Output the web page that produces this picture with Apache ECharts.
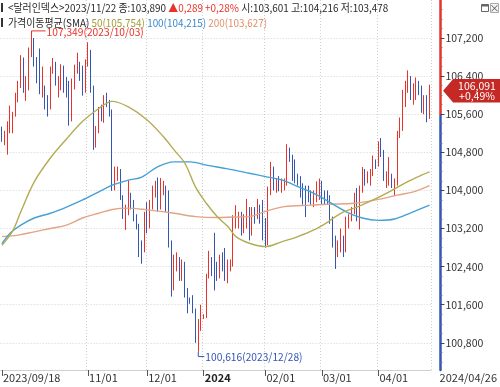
<!DOCTYPE html>
<html><head><meta charset="utf-8">
<script src="https://cdn.jsdelivr.net/npm/echarts@6/dist/echarts.min.js"></script>
<style>html,body{margin:0;padding:0;background:#fff}#c{width:500px;height:387px}</style>
</head><body><div id="c"></div>
<script>
// ---------- DATA ----------
const dates = [
"2023/09/18","2023/09/19","2023/09/20","2023/09/21","2023/09/22","2023/09/25","2023/09/26","2023/09/27","2023/09/28","2023/09/29",
"2023/10/02","2023/10/03","2023/10/04","2023/10/05","2023/10/06","2023/10/09","2023/10/10","2023/10/11","2023/10/12","2023/10/13","2023/10/16","2023/10/17","2023/10/18","2023/10/19","2023/10/20","2023/10/23","2023/10/24","2023/10/25","2023/10/26","2023/10/27","2023/10/30","2023/10/31",
"2023/11/01","2023/11/02","2023/11/03","2023/11/06","2023/11/07","2023/11/08","2023/11/09","2023/11/10","2023/11/13","2023/11/14","2023/11/15","2023/11/16","2023/11/17","2023/11/20","2023/11/21","2023/11/22","2023/11/23","2023/11/24","2023/11/27","2023/11/28","2023/11/29","2023/11/30",
"2023/12/01","2023/12/04","2023/12/05","2023/12/06","2023/12/07","2023/12/08","2023/12/11","2023/12/12","2023/12/13","2023/12/14","2023/12/15","2023/12/18","2023/12/19","2023/12/20","2023/12/21","2023/12/22","2023/12/25","2023/12/26","2023/12/27","2023/12/28","2023/12/29",
"2024/01/01","2024/01/02","2024/01/03","2024/01/04","2024/01/05","2024/01/08","2024/01/09","2024/01/10","2024/01/11","2024/01/12","2024/01/15","2024/01/16","2024/01/17","2024/01/18","2024/01/19","2024/01/22","2024/01/23","2024/01/24","2024/01/25","2024/01/26","2024/01/29","2024/01/30","2024/01/31",
"2024/02/01","2024/02/02","2024/02/05","2024/02/06","2024/02/07","2024/02/08","2024/02/09","2024/02/12","2024/02/13","2024/02/14","2024/02/15","2024/02/16","2024/02/19","2024/02/20","2024/02/21","2024/02/22","2024/02/23","2024/02/26","2024/02/27","2024/02/28","2024/02/29",
"2024/03/01","2024/03/04","2024/03/05","2024/03/06","2024/03/07","2024/03/08","2024/03/11","2024/03/12","2024/03/13","2024/03/14","2024/03/15","2024/03/18","2024/03/19","2024/03/20","2024/03/21","2024/03/22","2024/03/25","2024/03/26","2024/03/27","2024/03/28","2024/03/29",
"2024/04/01","2024/04/02","2024/04/03","2024/04/04","2024/04/05","2024/04/08","2024/04/09","2024/04/10","2024/04/11","2024/04/12","2024/04/15","2024/04/16","2024/04/17","2024/04/18","2024/04/19","2024/04/22","2024/04/23","2024/04/24","2024/04/25","2024/04/26"
];
const opens = [
105.32,105.10,105.17,105.36,105.39,105.58,105.98,106.23,106.68,106.16,
106.17,106.90,106.98,106.70,106.32,106.04,106.05,105.80,105.77,106.56,106.66,106.24,106.25,106.56,106.23,106.16,105.52,106.26,106.58,106.61,106.56,106.08,
106.68,106.87,106.15,105.02,105.25,105.55,105.52,105.91,105.86,105.64,104.05,104.36,104.37,103.86,103.45,103.601,103.89,103.76,103.41,103.20,102.79,102.77,
103.50,103.27,103.66,104.02,104.12,103.62,104.01,104.06,103.82,102.87,101.95,102.55,102.57,102.19,102.43,101.83,101.70,101.68,101.48,100.98,101.23,
101.33,101.36,102.20,102.46,102.42,102.41,102.23,102.55,102.36,102.28,102.40,102.43,103.35,103.42,103.43,103.27,103.34,103.60,103.24,103.51,103.44,103.63,103.40,
103.29,103.06,103.92,104.46,104.10,104.11,104.09,104.11,104.18,104.86,104.68,104.30,104.29,104.28,104.09,103.97,103.96,103.93,103.83,103.84,104.00,
104.16,103.88,103.87,103.83,103.36,102.83,102.72,102.86,102.95,102.78,103.37,103.43,103.59,103.83,103.39,104.00,104.43,104.21,104.31,104.37,104.55,
104.52,105.00,104.80,104.26,104.28,104.30,104.11,104.14,105.19,105.30,106.04,106.22,106.26,105.94,106.15,106.16,106.11,105.67,105.85,105.574
];
const highs = [
105.34,105.25,105.45,105.78,105.65,106.05,106.30,106.84,106.79,106.40,
107.00,107.349,107.20,106.80,106.98,106.60,106.20,106.00,106.60,106.78,106.70,106.40,106.65,106.62,106.38,106.30,106.35,106.64,106.89,106.70,106.62,106.75,
107.11,106.95,106.20,105.35,105.75,105.80,106.00,106.05,105.90,105.70,104.50,104.50,104.45,103.90,103.70,104.216,103.95,103.80,103.50,103.30,102.95,103.55,
103.75,103.80,104.10,104.20,104.27,104.26,104.20,104.10,104.00,102.95,102.65,102.70,102.60,102.55,102.50,101.95,101.75,101.80,101.52,101.30,101.60,
101.40,102.25,102.73,102.60,103.11,102.50,102.65,102.70,102.79,102.55,102.55,103.48,103.69,103.55,103.55,103.50,103.82,103.65,103.65,103.65,103.82,103.70,103.80,
103.42,104.08,104.60,104.50,104.25,104.30,104.25,104.25,104.97,104.90,104.75,104.65,104.35,104.30,104.15,104.10,104.10,104.00,104.00,104.19,104.25,
104.20,104.00,104.00,103.90,103.45,103.05,102.95,103.20,103.05,103.45,103.50,103.65,103.95,104.05,104.10,104.49,104.45,104.40,104.45,104.73,104.65,
105.03,105.10,104.85,104.40,104.70,104.35,104.25,105.25,105.53,106.11,106.30,106.52,106.40,106.25,106.37,106.30,106.20,106.00,106.00,106.22
];
const lows = [
105.02,104.95,104.75,105.20,105.20,105.55,105.85,106.15,106.05,105.88,
106.10,106.80,106.60,106.25,106.02,105.95,105.70,105.55,105.70,106.45,106.20,105.95,106.10,106.05,105.95,105.36,105.45,106.12,106.45,106.30,105.99,106.05,
106.60,106.05,104.85,104.90,105.20,105.45,105.42,105.75,105.55,103.99,104.00,104.20,103.80,103.40,103.17,103.478,103.60,103.35,103.18,102.60,102.46,102.70,
103.10,103.20,103.60,103.85,103.55,103.60,103.90,103.55,102.80,101.77,101.90,102.30,102.10,102.10,101.75,101.42,101.62,101.42,100.80,100.616,101.05,
101.30,101.32,102.15,102.20,101.90,102.10,102.15,102.30,102.10,102.05,102.30,102.40,103.20,103.20,103.05,103.10,103.20,102.95,103.05,103.30,103.40,103.30,102.95,
102.80,102.85,103.90,104.00,103.95,103.98,103.95,104.00,104.10,104.60,104.20,104.15,104.10,103.85,103.70,103.44,103.75,103.70,103.65,103.75,103.80,
103.70,103.70,103.70,103.30,102.80,102.35,102.60,102.70,102.60,102.70,103.20,103.35,103.50,103.35,103.18,103.95,104.10,104.15,104.10,104.30,104.45,
104.50,104.70,104.20,104.05,104.10,104.05,103.88,104.10,105.10,105.25,105.75,106.05,105.90,105.80,105.90,106.00,105.63,105.60,105.43,105.50
];
const closes = [
105.10,105.17,105.36,105.39,105.58,105.98,106.23,106.68,106.16,106.17,
106.90,106.98,106.70,106.32,106.04,106.05,105.80,105.77,106.56,106.66,106.24,106.25,106.56,106.23,106.16,105.52,106.26,106.58,106.61,106.56,106.08,106.68,
106.87,106.15,105.02,105.25,105.55,105.52,105.91,105.86,105.64,104.05,104.36,104.37,103.86,103.45,103.601,103.890,103.76,103.41,103.20,102.79,102.77,103.50,
103.27,103.66,104.02,104.12,103.62,104.01,104.06,103.82,102.87,101.95,102.55,102.57,102.19,102.43,101.83,101.70,101.68,101.48,100.98,101.23,101.33,
101.36,102.20,102.46,102.42,102.41,102.23,102.55,102.36,102.28,102.40,102.43,103.35,103.42,103.43,103.27,103.34,103.60,103.24,103.51,103.44,103.63,103.40,103.29,
103.06,103.92,104.46,104.10,104.11,104.09,104.11,104.18,104.86,104.68,104.30,104.29,104.28,104.09,103.97,103.96,103.93,103.83,103.84,104.00,104.16,
103.88,103.87,103.83,103.36,102.83,102.72,102.86,102.95,102.78,103.37,103.43,103.59,103.83,103.39,104.00,104.43,104.21,104.31,104.37,104.55,104.52,
105.00,104.80,104.26,104.28,104.30,104.11,104.14,105.19,105.30,106.04,106.22,106.26,105.94,106.15,106.16,106.11,105.67,105.85,105.574,106.091
];
// moving averages: [category index, value]
const sma50 = [[0,102.85],[4,103.15],[7,103.55],[12,104.18],[18,104.68],[24,105.08],[30,105.45],[36,105.72],[41,105.87],[47,105.754],[54,105.48],[60,105.13],[64,104.85],[68,104.57],[72,104.07],[76,103.73],[80,103.45],[84,103.24],[87,103.03],[92,102.89],[98,102.82],[104,102.92],[110,103.03],[116,103.17],[121,103.33],[126,103.52],[132,103.65],[138,103.80],[144,103.97],[150,104.16],[156,104.32],[159,104.39]];
const sma100 = [[0,102.88],[3,103.10],[7,103.27],[12,103.42],[18,103.52],[24,103.65],[30,103.80],[36,103.97],[41,104.11],[47,104.215],[52,104.28],[58,104.50],[64,104.60],[70,104.60],[76,104.53],[82,104.47],[86,104.43],[92,104.36],[98,104.29],[104,104.22],[110,104.08],[116,103.94],[121,103.78],[128,103.55],[134,103.42],[140,103.37],[146,103.40],[152,103.53],[159,103.69]];
const sma200 = [[0,103.03],[6,103.06],[12,103.13],[18,103.20],[24,103.27],[30,103.42],[36,103.52],[41,103.60],[47,103.627],[54,103.59],[64,103.52],[72,103.45],[80,103.43],[86,103.44],[92,103.45],[98,103.56],[105,103.66],[115,103.69],[121,103.71],[131,103.73],[139,103.80],[147,103.90],[153,103.97],[159,104.10]];
const yTickValues = [100.8,101.6,102.4,103.2,104.0,104.8,105.6,106.4,107.2];
const xLabelDates = ["2023/09/18","2023/11/01","2023/12/01","2024/01/01","2024/02/01","2024/03/01","2024/04/01","2024/04/26"];
const xLabelTexts = ["2023/09/18","11/01","12/01","2024","02/01","03/01","04/01","2024/04/26"];
const headerDate = "2023/11/22";

// ---------- STYLE / LAYOUT ----------
const FONT = '"Noto Sans CJK KR","Noto Sans",sans-serif';
const UP = '#e8322a', DN = '#3456b4';
const C50 = '#b3ac52', C100 = '#45a0d6', C200 = '#e3a486';
const GRID_W = 438.6, GRID_H = 370, Y_OFF = 9.5;
const Y_MIN = 100.2289, Y_MAX = 107.9979;

const f3 = v => v.toFixed(3).replace('.', ',');
const labelIdx = xLabelDates.map(d => dates.indexOf(d));
const labelMap = {}; labelIdx.forEach((i, k) => labelMap[i] = xLabelTexts[k]);
const lastIdx = dates.length - 1;
const tickIdx = labelIdx.filter(i => i !== lastIdx);
const minorTicks = [];
for (let k = Math.round(Y_MIN * 5) + 1; k <= Math.floor(Y_MAX * 5); k++) {
  const v = k / 5;
  if (!yTickValues.some(t => Math.abs(t - v) < 1e-6)) minorTicks.push(+v.toFixed(1));
}
const prevClose = closes[lastIdx - 1];
const splitFrac = (Y_MAX - prevClose) / (Y_MAX - Y_MIN);

const chart = echarts.init(document.getElementById('c'), null, {renderer: 'canvas'});
const candleData = dates.map((d, i) => [opens[i], closes[i], lows[i], highs[i]]);

chart.setOption({
  animation: false,
  textStyle: {fontFamily: FONT},
  grid: {left: 0, top: 0, width: GRID_W, height: GRID_H, containLabel: false},
  xAxis: {
    type: 'category', data: dates, boundaryGap: true,
    axisLine: {show: true, lineStyle: {color: '#d0d0d0', width: 1}},
    axisTick: {show: true, alignWithLabel: true, length: 6, interval: i => tickIdx.includes(i), lineStyle: {color: '#555'}},
    axisLabel: {
      interval: i => labelMap[i] !== undefined,
      formatter: (v, i) => {
        const t = labelMap[i];
        if (t === undefined) return '';
        if (t === '2024') return '{b|' + t + '}';
        if (i === lastIdx) return '{e|' + t + '}';
        return '{n|' + t + '}';
      },
      align: 'left', margin: 2, color: '#333', fontSize: 11, fontFamily: FONT,
      rich: {
        n: {fontSize: 11, color: '#333', fontFamily: FONT, padding: [0, 0, 0, 1]},
        b: {fontSize: 11, color: '#222', fontWeight: 'bold', fontFamily: FONT, padding: [0, 0, 0, 1]},
        e: {fontSize: 11, color: '#333', fontFamily: FONT, padding: [0, 0, 0, 10]}
      }
    },
    splitLine: {show: true, interval: i => tickIdx.includes(i) && i !== 0, lineStyle: {color: '#cfcfcf', type: [1, 2]}}
  },
  yAxis: [{
    type: 'value', position: 'right', offset: Y_OFF, min: Y_MIN, max: Y_MAX, scale: true,
    axisLine: {show: true, lineStyle: {width: 2.5, color: new echarts.graphic.LinearGradient(0, 0, 0, GRID_H, [
      {offset: 0, color: UP}, {offset: splitFrac, color: UP}, {offset: splitFrac, color: DN}, {offset: 1, color: DN}], true)}},
    axisTick: {show: true, length: 4, customValues: yTickValues, lineStyle: {color: '#444'}},
    axisLabel: {customValues: yTickValues, formatter: v => f3(v), color: '#333', fontSize: 10.5, margin: 5, fontFamily: FONT},
    splitLine: {show: true, lineStyle: {color: '#d2d2d2', type: [1, 2]}}
  }, {
    type: 'value', position: 'right', offset: Y_OFF, min: Y_MIN, max: Y_MAX, scale: true,
    axisLine: {show: false},
    axisTick: {show: true, length: 2, customValues: minorTicks, lineStyle: {color: '#777'}},
    axisLabel: {show: false},
    splitLine: {show: false}
  }],
  series: [
    {type: 'candlestick', data: candleData, barWidth: 1.3,
     itemStyle: {color: UP, color0: DN, borderColor: UP, borderColor0: DN, borderWidth: 1}},
    {type: 'line', data: sma200, smooth: 0.35, symbol: 'none', lineStyle: {color: C200, width: 1.4}},
    {type: 'line', data: sma100, smooth: 0.35, symbol: 'none', lineStyle: {color: C100, width: 1.4}},
    {type: 'line', data: sma50, smooth: 0.35, symbol: 'none', lineStyle: {color: C50, width: 1.4}}
  ]
});

// ---------- annotations placed through the chart's own scales ----------
const px = i => chart.convertToPixel({xAxisIndex: 0}, i);
const py = v => chart.convertToPixel({yAxisIndex: 0}, v);
const axisX = GRID_W + Y_OFF;

let hiI = 0, loI = 0;
highs.forEach((v, i) => { if (v > highs[hiI]) hiI = i; });
lows.forEach((v, i) => { if (v < lows[loI]) loI = i; });
const hx = px(hiI), hy = py(highs[hiI]);
const lx = px(loI), ly = py(lows[loI]);

const hI = dates.indexOf(headerDate);
const hc = closes[hI], hpc = closes[hI - 1], chg = hc - hpc, pct = chg / hpc * 100;
const smaAt = (arr, i) => { const p = arr.find(q => q[0] === i); return p ? p[1] : null; };

const lastC = closes[lastIdx], lastPct = (lastC - prevClose) / prevClose * 100;
const ly0 = py(lastC);
const HS = 0.9, AS = 0.93;

chart.setOption({
  graphic: [
    {type: 'rect', shape: {x: 1, y: 3, width: 2, height: 9}, style: {fill: '#333'}, z: 100},
    {type: 'text', x: 8, y: 7.5, scaleX: HS, z: 100, style: {
      text: '{k|<달러인덱스>' + headerDate + ' 종:' + f3(hc) + '} {r|' + (chg >= 0 ? '▲' : '▼') + f3(Math.abs(chg)) + ' ' + (chg >= 0 ? '+' : '-') + Math.abs(pct).toFixed(2).replace('.', ',') + '%} {k|시:' + f3(opens[hI]) + ' 고:' + f3(highs[hI]) + ' 저:' + f3(lows[hI]) + '}',
      verticalAlign: 'middle', font: '11px ' + FONT,
      rich: {k: {fill: '#2a2a2a', font: '11px ' + FONT}, r: {fill: UP, font: '11px ' + FONT}}
    }},
    {type: 'rect', shape: {x: 1, y: 18, width: 2, height: 9}, style: {fill: '#333'}, z: 100},
    {type: 'text', x: 8, y: 22.5, scaleX: HS, z: 100, style: {
      text: '{k|가격이동평균(SMA)} {a|50(' + f3(smaAt(sma50, hI)) + ')} {b|100(' + f3(smaAt(sma100, hI)) + ')} {c|200(' + f3(smaAt(sma200, hI)) + ')}',
      verticalAlign: 'middle', font: '11px ' + FONT,
      rich: {k: {fill: '#2a2a2a', font: '11px ' + FONT}, a: {fill: '#a39d35', font: '11px ' + FONT},
             b: {fill: '#3a8bd0', font: '11px ' + FONT}, c: {fill: '#df9068', font: '11px ' + FONT}}
    }},
    // window icons
    {type: 'rect', shape: {x: 481.5, y: 4.5, width: 7, height: 7}, style: {fill: 'none', stroke: '#666', lineWidth: 1}, z: 100},
    {type: 'rect', shape: {x: 481.5, y: 4.5, width: 7, height: 2}, style: {fill: '#666'}, z: 100},
    {type: 'rect', shape: {x: 490.5, y: 3.5, width: 8, height: 9}, style: {fill: '#f4f4f4', stroke: '#aaa', lineWidth: 1}, z: 100},
    {type: 'text', x: 494.5, y: 8, z: 101, style: {text: '×', fill: '#555', font: '10px ' + FONT, align: 'center', verticalAlign: 'middle'}},
    // high annotation
    {type: 'polyline', z: 90, shape: {points: [[hx, hy + 3], [hx, hy], [hx + 14, hy]]}, style: {stroke: UP, lineWidth: 1, fill: 'none'}},
    {type: 'text', x: hx + 15, y: hy + 1, scaleX: AS, z: 90, style: {text: f3(highs[hiI]) + '(' + dates[hiI] + ')', fill: UP, font: '11px ' + FONT, verticalAlign: 'middle'}},
    // low annotation
    {type: 'polyline', z: 90, shape: {points: [[lx, ly], [lx, ly + 5], [lx + 6, ly + 5]]}, style: {stroke: DN, lineWidth: 1, fill: 'none'}},
    {type: 'text', x: lx + 7, y: ly + 5, scaleX: AS, z: 90, style: {text: f3(lows[loI]) + '(' + dates[loI] + ')', fill: DN, font: '11px ' + FONT, verticalAlign: 'middle'}},
    // last price tag
    {type: 'polygon', z: 120, shape: {points: [[axisX - 5, ly0], [axisX + 5, ly0 - 11.7], [500, ly0 - 11.7], [500, ly0 + 11.7], [axisX + 5, ly0 + 11.7]]},
     style: {fill: '#c42925'}},
    {type: 'text', x: 477, y: ly0 - 5.3, z: 121, style: {text: f3(lastC), fill: '#fff', font: '10.5px ' + FONT, align: 'center', verticalAlign: 'middle'}},
    {type: 'text', x: 477, y: ly0 + 5.6, z: 121, style: {text: (lastPct >= 0 ? '+' : '-') + Math.abs(lastPct).toFixed(2).replace('.', ',') + '%', fill: '#fff', font: '10.5px ' + FONT, align: 'center', verticalAlign: 'middle'}}
  ]
});
</script></body></html>
